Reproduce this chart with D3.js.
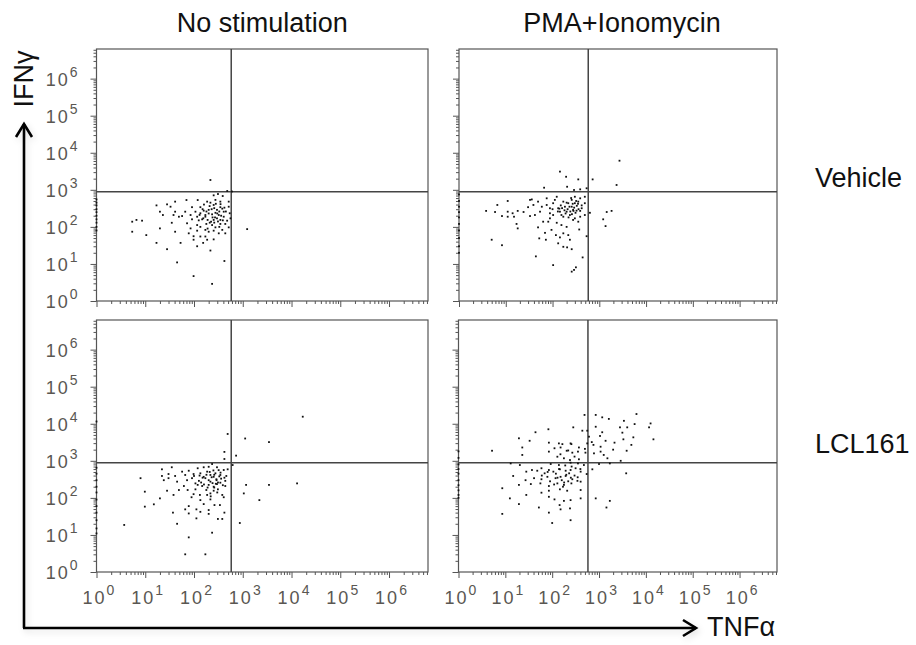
<!DOCTYPE html>
<html lang="en">
<head>
<meta charset="UTF-8">
<title>IFNγ vs TNFα</title>
<script src="https://d3js.org/d3.v7.min.js"></script>
<style>
  body { margin: 0; background: #fff; }
  svg text { font-family: "Liberation Sans", Arial, sans-serif; }
  .big { font-size: 27px; fill: #111; }
  .tick line { stroke: #555; }
</style>
</head>
<body>
<svg id="chart" width="916" height="645"></svg>
<script>
// labels
const columns = ["No stimulation", "PMA+Ionomycin"];
const rows = ["Vehicle", "LCL161"];
const decadeTicks = [1, 10, 100, 1e3, 1e4, 1e5, 1e6];
const decadeExponents = ["0", "1", "2", "3", "4", "5", "6"];
const axisMax = 6.3e6;
const tnfGate = 580;
const ifnGate = 880;

// events: [TNFα, IFNγ]
const vehicleNoStim = [
  [217,1840],[310,770],[253,710],[388,680],[480,930],[119,530],[70,530],[41,480],[17,380],[28,405],
  [217,450],[253,390],[347,340],[135,340],[91,340],[515,350],[20,257],[41,257],[66,257],[107,257],
  [158,274],[200,288],[296,288],[407,257],[540,233],[23,209],[38,209],[57,196],[85,209],[116,188],
  [171,209],[235,218],[322,209],[91,160],[147,160],[190,154],[253,154],[347,154],[478,147],[5.4,138],
  [6.6,154],[8.6,147],[35,129],[72,125],[116,112],[179,120],[235,112],[347,120],[438,120],[515,97],
  [1230,87],[5.4,74],[10.5,60],[20,91],[41,74],[78,67],[116,79],[171,83],[253,79],[322,67],
  [98,56],[135,55],[98,45],[186,45],[253,46],[17,37],[53,37],[116,30],[154,37],[28,25],
  [217,23],[45,11],[420,12],[98,4.7],[235,2.9],[209,364],[275,240],[171,188],[296,170],[407,188],
  [135,233],[224,138],[275,97],[200,74],[380,83],[135,100],[85,91],[515,480],[347,480],[275,535],
  [186,480],[560,170],[49,188],[33,350],[438,67],[171,55],[600,900],
  [150,300],[260,320],[330,260],[380,310],[200,230],[240,180],[310,140],[360,200],[180,260],[130,210],
  [280,420],[230,300],[420,330],[350,410],[160,400],[300,230],[270,180],[210,130],[390,150],[450,260],
  [125,150],[190,90],[330,100],[260,130],[155,170],
  [1,550],[1,450],[1,380],[1,300],[1,250],[1,200],[1,160],[1,130],[1,100],[1,80]
];

const vehiclePMA = [
  [2700,6100],[144,3100],[195,2250],[355,1910],[720,1910],[2340,1350],[66,1140],[205,1210],[288,990],[390,1030],
  [535,1100],[490,650],[390,590],[257,535],[170,480],[112,535],[75,590],[49,480],[36,550],[11,500],
  [6.6,390],[3.8,270],[5.9,252],[8.3,196],[11,257],[14,233],[11,188],[15,188],[18,270],[24,252],
  [30,340],[39,390],[33,196],[42,209],[54,257],[59,350],[75,390],[88,318],[103,435],[132,318],
  [144,257],[184,350],[217,435],[257,350],[300,435],[355,480],[326,274],[420,318],[490,435],[630,240],
  [1440,252],[1830,270],[1210,160],[1360,105],[103,209],[170,188],[235,209],[275,154],[390,188],[490,209],
  [63,138],[81,138],[123,129],[155,112],[200,100],[355,138],[372,85],[49,97],[18,91],[69,69],
  [95,83],[118,60],[144,52],[170,67],[217,60],[235,45],[52,49],[72,45],[5,45],[8.3,32],
  [132,36],[170,29],[205,28],[257,25],[535,56],[44,16],[440,15],[103,9.3],[316,8.1],[288,6.9],
  [257,6.2],[17,120],[33,535],[123,650],[300,650],[88,233],[200,257],[275,288],[155,209],[88,170],
  [150,380],[210,300],[270,420],[330,370],[240,260],[290,330],[180,280],[360,300],[200,450],[310,240],
  [260,220],[130,260],[350,420],[390,270],[230,350],[280,270],[160,320],[320,500],[250,600],[190,230],
  [300,170],[220,180],[140,310],[420,380],[100,300],
  [1,750],[1,500],[1,350],[1,250],[1,180],[1,120],[1,80],[1,50],[1,30],[1,20]
];

const lclNoStim = [
  [17000,15500],[490,5300],[1120,4000],[3450,3200],[420,1740],[730,1380],[420,1120],[620,770],[235,820],[35,670],
  [22,590],[57,510],[78,540],[119,630],[158,670],[200,690],[296,670],[407,565],[490,590],[30,440],
  [22,390],[8,340],[41,390],[66,415],[98,440],[135,460],[186,510],[275,460],[347,415],[460,390],
  [24,300],[45,274],[72,300],[91,340],[126,288],[171,340],[217,274],[288,318],[347,257],[438,288],
  [119,224],[147,209],[200,224],[296,236],[438,209],[1170,224],[3450,224],[13000,246],[9.8,147],[28,156],
  [49,163],[74,163],[107,170],[179,163],[253,156],[309,170],[38,120],[98,126],[132,120],[186,120],
  [217,132],[380,120],[1050,132],[20,97],[89,104],[135,87],[217,91],[407,104],[2190,87],[9.8,58],
  [15,67],[78,60],[158,68],[263,64],[340,64],[66,49],[112,49],[135,42],[200,47],[37,40],
  [78,38],[200,37],[420,40],[112,28],[309,27],[380,27],[3.7,18.6],[45,20],[870,21],[235,11.5],
  [78,8.6],[66,3.0],[171,3.0],[30,340],[253,370],[158,370],[107,246],[253,200],[62,209],[217,415],
  [150,350],[200,300],[260,420],[330,380],[240,250],[290,300],[180,420],[360,330],[210,500],[310,260],
  [260,190],[130,400],[350,480],[390,220],[230,360],[280,240],[160,230],[320,560],[250,550],[190,190],
  [300,140],[220,110],[140,260],[420,350],[100,390],
  [1,650],[1,450],[1,300],[1,200],[1,140],[1,90],[1,60],[1,40],[1,25],[1,15],[1,11],[1,11500]
];

const lclPMA = [
  [6300,18300],[850,17300],[490,17300],[1170,14900],[1620,13500],[3400,12000],[12600,10200],[5750,9800],[2800,8000],[4000,8000],
  [11700,8000],[282,8000],[850,8300],[440,6500],[560,6500],[1170,5900],[3150,5750],[83,7100],[44,5900],[19.5,4050],
  [33,3470],[85,3090],[139,2950],[165,2820],[257,2820],[372,2290],[560,2950],[1050,4680],[1380,3470],[1080,2400],
  [760,2690],[2140,3090],[3310,3800],[4900,2690],[5400,4300],[14500,3800],[3890,1870],[5.2,1870],[23,2290],[23,1440],
  [85,1770],[112,2180],[151,2290],[204,1870],[269,1660],[355,1770],[513,1660],[780,1590],[1080,1770],[1260,1440],
  [129,1290],[178,1170],[240,1050],[372,1100],[1510,1170],[2900,1000],[13,850],[20.4,770],[93,820],[139,770],
  [247,890],[355,850],[475,770],[720,590],[1000,820],[1700,850],[3800,460],[14.7,390],[28,510],[37,565],
  [48,540],[59,630],[69,460],[85,565],[106,510],[146,590],[194,540],[247,565],[316,630],[405,510],
  [545,440],[27,300],[41,340],[59,318],[79,370],[118,340],[151,370],[194,390],[269,318],[346,288],
  [405,274],[19.5,224],[35,236],[56,246],[85,209],[129,246],[178,224],[257,246],[8.6,182],[59,138],
  [146,170],[209,156],[85,156],[405,163],[28,120],[12.5,97],[85,107],[112,91],[178,83],[247,87],
  [405,97],[850,97],[1700,83],[19.5,68],[144,64],[52,55],[151,49],[240,52],[1440,55],[8.6,37],
  [85,40],[247,25],[100,21],[247,2950],[610,4480],
  [60,400],[90,280],[120,450],[160,300],[200,420],[250,350],[300,400],[110,230],[170,200],[220,280],
  [140,600],[80,500],[350,360],[260,700],[190,750],[130,350],[230,460],[180,260],[400,600],[300,1300],
  [150,1500],[220,1900],[500,2100],[700,3200],[2000,2000],
  [1,1800],[1,1200],[1,800],[1,600],[1,450],[1,300],[1,220],[1,160],[1,120],[1,100]
];

const svg = d3.select("#chart");

const defs = svg.append("defs");
const shadow = defs.append("filter").attr("id", "soft").attr("x", "-20%").attr("y", "-20%")
  .attr("width", "140%").attr("height", "140%");
shadow.append("feDropShadow").attr("dx", 2).attr("dy", 3).attr("stdDeviation", 3)
  .attr("flood-color", "#000").attr("flood-opacity", 0.12);

const panels = [
  { data: vehicleNoStim, col: 0, row: 0, left: 96.5, right: 428, top: 49, bottom: 301 },
  { data: vehiclePMA,    col: 1, row: 0, left: 459,  right: 777, top: 49, bottom: 301 },
  { data: lclNoStim,     col: 0, row: 1, left: 96.5, right: 428, top: 320, bottom: 572 },
  { data: lclPMA,        col: 1, row: 1, left: 458.5, right: 777, top: 320, bottom: 572 }
];

// "10" with a raised exponent
function addPower(text, exp) {
  text.style("font-size", "18px").style("letter-spacing", "2px").attr("fill", "#5a5752");
  text.append("tspan").text("10");
  text.append("tspan").attr("dy", -9)
    .style("font-size", "14px").style("letter-spacing", "0px").text(exp);
}

panels.forEach(p => {
  const x = d3.scaleLog().domain([1, axisMax]).range([p.left, p.right]);
  const y = d3.scaleLog().domain([1, axisMax]).range([p.bottom, p.top]);
  const allTicks = x.ticks();
  const minor = allTicks.filter(v => !decadeTicks.includes(v));

  const g = svg.append("g");

  // minor and major ticks
  const yMinor = g.append("g").attr("transform", `translate(${p.left},0)`)
    .call(d3.axisLeft(y).tickValues(minor).tickSize(3).tickSizeOuter(0).tickFormat(""));
  const yMajor = g.append("g").attr("transform", `translate(${p.left},0)`)
    .call(d3.axisLeft(y).tickValues(decadeTicks).tickSize(6).tickSizeOuter(0).tickFormat(""));
  const xMinor = g.append("g").attr("transform", `translate(0,${p.bottom})`)
    .call(d3.axisBottom(x).tickValues(minor).tickSize(3).tickSizeOuter(0).tickFormat(""));
  const xMajor = g.append("g").attr("transform", `translate(0,${p.bottom})`)
    .call(d3.axisBottom(x).tickValues(decadeTicks).tickSize(6).tickSizeOuter(0).tickFormat(""));
  [yMinor, yMajor, xMinor, xMajor].forEach(a => a.select(".domain").remove());

  // frame
  g.append("rect")
    .attr("x", p.left).attr("y", p.top)
    .attr("width", p.right - p.left).attr("height", p.bottom - p.top)
    .attr("fill", "none").attr("stroke", "#555").attr("stroke-width", 1.2);

  // quadrant gates
  g.append("line")
    .attr("x1", x(tnfGate)).attr("x2", x(tnfGate))
    .attr("y1", p.top).attr("y2", p.bottom)
    .attr("stroke", "#444").attr("stroke-width", 1.5);
  g.append("line")
    .attr("x1", p.left).attr("x2", p.right)
    .attr("y1", y(ifnGate)).attr("y2", y(ifnGate))
    .attr("stroke", "#444").attr("stroke-width", 1.5);

  // events
  g.selectAll(".dot")
    .data(p.data)
    .enter().append("rect")
    .attr("class", "dot")
    .attr("x", d => x(d[0]) - 0.9)
    .attr("y", d => y(d[1]) - 0.9)
    .attr("width", 1.8)
    .attr("height", 1.8)
    .attr("fill", "#111");

  // tick labels on outer panels only
  if (p.col === 0) {
    decadeTicks.forEach((v, i) => {
      const t = g.append("text")
        .attr("text-anchor", "end")
        .attr("x", p.left - 19).attr("y", y(v) + 7);
      addPower(t, decadeExponents[i]);
    });
  }
  if (p.row === 1) {
    decadeTicks.forEach((v, i) => {
      const t = g.append("text")
        .attr("text-anchor", "middle")
        .attr("x", x(v) + 2).attr("y", 604);
      addPower(t, decadeExponents[i]);
    });
  }

  if (p.row === 0) {
    svg.append("text").attr("class", "big")
      .attr("text-anchor", "middle")
      .attr("x", (p.left + p.right) / 2 + (p.col ? 4 : 0)).attr("y", 32)
      .text(columns[p.col]);
  }
  if (p.col === 1) {
    svg.append("text").attr("class", "big")
      .attr("x", 815).attr("y", p.row === 0 ? 187 : 453)
      .text(rows[p.row]);
  }
});

// axis arrows
const arrows = svg.append("g").attr("filter", "url(#soft)")
  .attr("fill", "none").attr("stroke", "#000").attr("stroke-width", 2.6);
arrows.append("path").attr("d", "M24,628 L24,124");
arrows.append("path").attr("d", "M16,137 L24,124 L32,137");
arrows.append("path").attr("d", "M23,628 L696,628");
arrows.append("path").attr("d", "M683,620 L696,628 L683,636");

svg.append("text").attr("class", "big")
  .attr("transform", "translate(33,79) rotate(-90)")
  .attr("text-anchor", "middle")
  .text("IFNγ");

svg.append("text").attr("class", "big")
  .attr("x", 707).attr("y", 636)
  .text("TNFα");
</script>
</body>
</html>
